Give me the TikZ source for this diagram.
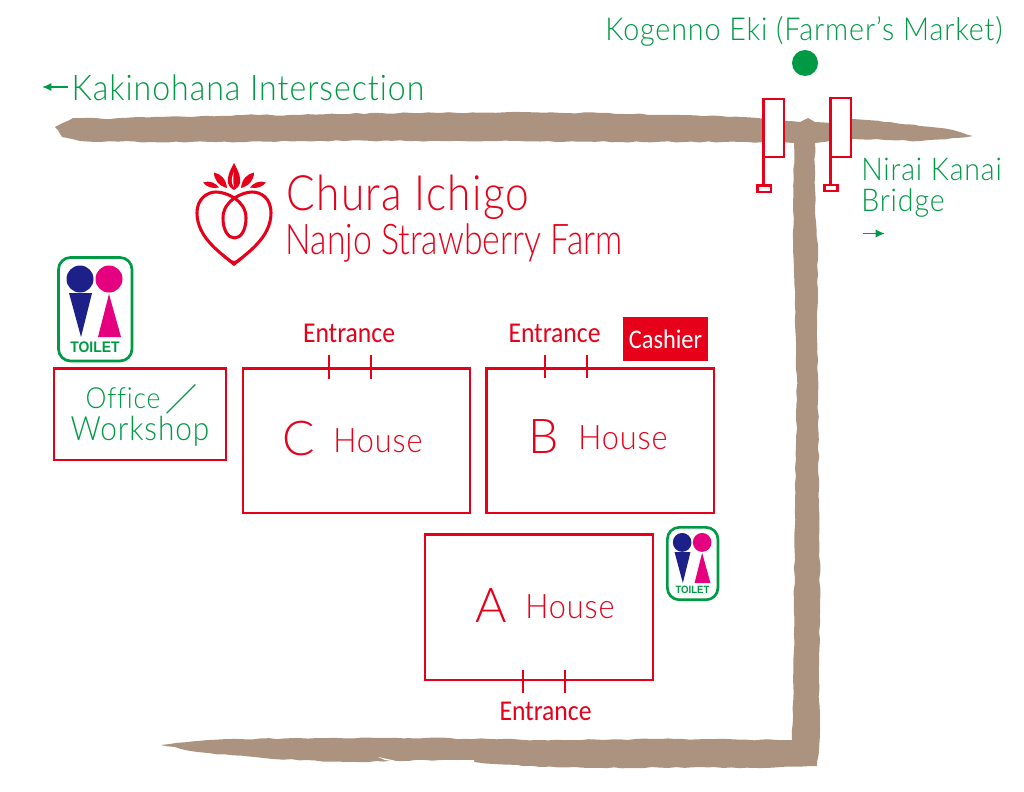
\documentclass[tikz,border=0pt]{standalone}
\usepackage{fontspec}
\usepackage{graphicx}
\setmainfont{Lato}[UprightFont=* Light,LetterSpace=3,Ligatures=NoCommon]
\newfontfamily\humfont{Carlito}
\newfontfamily\boldfont{Liberation Sans}[Scale=1]
\newfontfamily\cjk{Noto Sans CJK JP}
\definecolor{roadc}{RGB}{172,147,128}
\definecolor{redc}{RGB}{230,0,25}
\definecolor{greenc}{RGB}{0,153,68}
\definecolor{navyc}{RGB}{29,32,136}
\definecolor{pinkc}{RGB}{228,0,127}
\newcommand\fitw[2]{\resizebox{#1pt}{!}{#2}}
\newcommand\fity[3]{\scalebox{1}[#2]{\resizebox{#1pt}{!}{#3}}}
\usetikzlibrary{arrows.meta,decorations.pathmorphing}
\tikzset{
  road/.style={fill=roadc,draw=none,decorate,decoration={random steps,segment length=6pt,amplitude=0.5pt}},
  house/.style={draw=redc,line width=1.6pt,fill=none},
  gate/.style={draw=redc,line width=1.7pt,fill=white},
  tick/.style={draw=redc,line width=1.2pt},
  lab/.style={inner sep=0pt,anchor=center},
  gtxt/.style={lab,text=greenc},
  rtxt/.style={lab,text=redc},
  garrow/.style={draw=greenc,line width=1.1pt,-{Latex[length=7pt,width=6pt]}},
  toiletbox/.style={draw=greenc,line width=2pt,rounded corners=9pt,fill=white}
}
\newcommand\toilet{%
  \draw[toiletbox] (58.5,257.5) rectangle (132,361);
  \fill[navyc] (80,279) circle (13.5);
  \fill[pinkc] (109,279) circle (13.5);
  \fill[navyc] (69,293) -- (92,293) -- (81,337) -- cycle;
  \fill[pinkc] (109,294) -- (121,337) -- (98,337) -- cycle;
}
\begin{document}
\begin{tikzpicture}[x=0.75pt,y=-0.75pt]
\useasboundingbox (0,0) rectangle (1024,792);
\pgfmathsetseed{7}
% road
\path[road] (55,127) -- (73,118) -- (110,119) -- (140,117) -- (190,117) -- (243,115) -- (300,115) -- (380,113) -- (440,113) -- (520,112) -- (600,113) -- (680,115) -- (740,117) -- (785,121) -- (800,122) -- (808,118) -- (815,122) -- (835,123) -- (853,119) -- (890,122) -- (920,126) -- (953,130) -- (973,136) -- (953,138) -- (920,141) -- (885,140) -- (850,139) -- (815,143) -- (815,213) -- (818,250) -- (817,320) -- (818,400) -- (819,500) -- (820,600) -- (819,680) -- (820,730) -- (817,766) -- (763,768) -- (700,767) -- (630,768) -- (540,767) -- (474,762) -- (440,760) -- (347,762) -- (273,759) -- (198,752) -- (161,745) -- (198,741) -- (229,739) -- (338,738) -- (425,738) -- (540,740) -- (674,739) -- (792,740) -- (794,650) -- (794,600) -- (795,500) -- (797,400) -- (795,300) -- (793,250) -- (794,143) -- (740,142) -- (620,142) -- (520,141) -- (440,141) -- (300,141) -- (240,142) -- (150,142) -- (80,141) -- (62,137) -- cycle;
\fill[white] (378,757) -- (392,760) -- (398,762) -- (385,760) -- cycle;
\fill[white] (440,760) -- (474,760) -- (474,762) -- (445,761.5) -- cycle;
% gates
\draw[gate] (763.5,99) rectangle (784,157);
\draw[gate] (763.5,157) -- (763.5,185);
\draw[gate] (757.5,185.5) rectangle (771,192);
\draw[gate] (830.5,98) rectangle (851,157);
\draw[gate] (830.5,157) -- (830.5,185);
\draw[gate] (824.5,185) rectangle (837.5,191);
% market
\fill[greenc] (805,63) circle (13) node[inner sep=0pt] (market) {};
\node[gtxt] (kogenno) at (804,31) {\fity{298}{1.1}{Kogenno Eki (Farmer's Market)}};
\coordinate (kl1) at (68,87); \coordinate (kl2) at (42,87);
\draw[garrow] (kl1) -- (kl2);
\node[gtxt] (kaki) at (248,87.5) {\fity{264.5}{1.1}{Kakinohana Intersection}};
\node[gtxt,anchor=west] (nirai) at (861,169.5) {\fity{105.5}{1.1}{Nirai Kanai}};
\node[gtxt,anchor=west] (bridge) at (861,203) {\fity{62.5}{1.1}{Bridge}};
\coordinate (nr1) at (863,233.5); \coordinate (nr2) at (885,233.5);
\draw[garrow] (nr1) -- (nr2);
% logo
\begin{scope}[redc]
\draw[line width=2.3pt,line join=round] (234,264) .. controls (222,254) and (197,238) .. (197,213) .. controls (197,198) and (208,192) .. (216,192) .. controls (226,192) and (246,200) .. (246,218) .. controls (246,230) and (241,238) .. (234.5,238) .. controls (228,238) and (223,230) .. (223,218) .. controls (223,200) and (243,192) .. (252,192) .. controls (261,192) and (271,198) .. (271,213) .. controls (271,238) and (246,254) .. (234,264) -- cycle;
\fill (234,266) -- (224,258) -- (234,261) -- (244,258) -- cycle;
\fill (234,163) .. controls (239,172) and (241,178) .. (240,183) .. controls (239,187) and (236,189) .. (234,190) .. controls (232,189) and (229,187) .. (228,183) .. controls (227,178) and (229,172) .. (234,163) -- cycle;
\fill[white] (234,172) .. controls (231,178) and (231,183) .. (234,187) .. controls (233,182) and (233,177) .. (234,172) -- cycle;
\fill (214,172.5) .. controls (221,174) and (226,179) .. (227,188) .. controls (219,186) and (214,180) .. (214,172.5) -- cycle;
\fill (254,172.5) .. controls (247,174) and (242,179) .. (241,188) .. controls (249,186) and (254,180) .. (254,172.5) -- cycle;
\fill (203,182.5) .. controls (209,180) and (216,183) .. (219,187.5) .. controls (212,189) and (207,187) .. (203,182.5) -- cycle;
\fill (266,182.5) .. controls (260,180) and (253,183) .. (250,187.5) .. controls (257,189) and (262,187) .. (266,182.5) -- cycle;
\end{scope}
\node[rtxt,anchor=west] (chura) at (286.5,197) {\fity{182}{1.15}{Chura Ichigo}};
\node[rtxt,anchor=west] (nanjo) at (285.5,243.5) {\fity{252.5}{1.25}{\addfontfeature{LetterSpace=0}Nanjo Strawberry Farm}};
% toilets
\toilet
\node[lab,text=greenc] (t1) at (95,347) {\fity{37}{1.1}{\boldfont\bfseries TOILET}};
\begin{scope}[shift={(667,527)},xscale=0.689,yscale=0.7,shift={(-58,-257)}]
\toilet
\node[lab,text=greenc] (t2) at (95,347) {\fity{25.5}{1.1}{\boldfont\bfseries TOILET}};
\end{scope}
% buildings
\draw[house] (54,368.5) rectangle (226,460) node[midway,inner sep=0pt] (office) {};
\node[gtxt] (off1) at (123,398.5) {\fity{56}{1.1}{Office}};
\node[gtxt] (off3) at (181,399) {\resizebox{24pt}{!}{\cjk ／}};
\node[gtxt] (off2) at (140,431.5) {\fity{104}{1.12}{Workshop}};
\draw[house] (243,368.5) rectangle (470,513);
\draw[house] (486.5,368.5) rectangle (714,513);
\draw[house] (425,534.5) rectangle (653,680);
\fill[redc] (623,317) rectangle (708,361);
\node[lab,text=white] (cashier) at (665.5,339.5) {\fity{55}{1.1}{\humfont Cashier}};
\node[rtxt] (c) at (298.5,438.5) {\fontsize{36}{36}\selectfont C};
\node[rtxt] (chouse) at (378,440.5) {\fity{67}{1.1}{House}};
\node[rtxt] (b) at (544,437) {\fontsize{36}{36}\selectfont B};
\node[rtxt] (bhouse) at (623,437.5) {\fity{67}{1.1}{House}};
\node[rtxt] (a) at (491,606) {\fontsize{36}{36}\selectfont A};
\node[rtxt] (ahouse) at (570,606.5) {\fity{67}{1.1}{House}};
% entrances
\draw[tick] (329,355) -- (329,379);
\draw[tick] (371,355) -- (371,379);
\draw[tick] (545,355) -- (545,378);
\draw[tick] (587,355) -- (587,378);
\draw[tick] (523,670) -- (523,693);
\draw[tick] (565,670) -- (565,693);
\node[rtxt] (e1) at (349,333) {\fity{69}{1.12}{\humfont Entrance}};
\node[rtxt] (e2) at (554.5,333) {\fity{69}{1.12}{\humfont Entrance}};
\node[rtxt] (e3) at (545.5,711) {\fity{69}{1.12}{\humfont Entrance}};
\end{tikzpicture}
\end{document}
